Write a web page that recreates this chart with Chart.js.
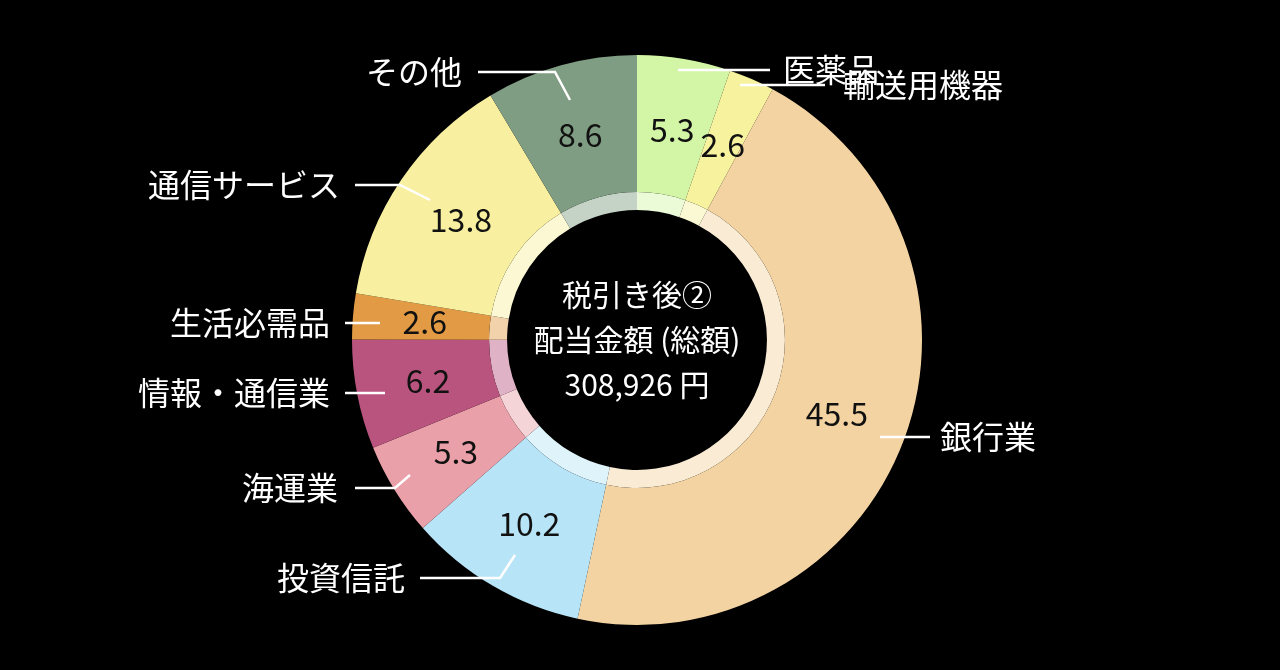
<!DOCTYPE html>
<html><head><meta charset="utf-8">
<script src="https://cdn.jsdelivr.net/npm/chart.js@4"></script>
<style>html,body{margin:0;background:#000;}#w{width:1280px;height:670px;}</style>
</head><body><div id="w"><canvas id="c"></canvas></div>
<script>
const categories = ['医薬品','輸送用機器','銀行業','投資信託','海運業','情報・通信業','生活必需品','通信サービス','その他'];
const values = [5.3, 2.6, 45.5, 10.2, 5.3, 6.2, 2.6, 13.8, 8.6];
const valueLabels = ['5.3','2.6','45.5','10.2','5.3','6.2','2.6','13.8','8.6'];
const centerLines = ['税引き後②','配当金額 (総額)','308,926 円'];
const colors = ['#d3f5a6','#f7f29e','#f3d3a1','#b7e4f7','#e9a0a9','#b9547f','#e29b44','#f8f0a0','#7f9d82'];
function lighten(h,t){const n=parseInt(h.slice(1),16);const r=n>>16,g=(n>>8)&255,b=n&255;
 const m=c=>Math.round(c+(255-c)*t);return `rgb(${m(r)},${m(g)},${m(b)})`;}
// label layout: [textX, textY, align, lineX1, lineX2, bendX, bendY]
const layout = [
 [783,70,'left',678,770,null,null],
 [843,85,'left',740,825,null,null],
 [940,437,'left',880,930,null,null],
 [405,578,'right',420,500,515,555],
 [338,488,'right',355,395,410,475],
 [330,393,'right',345,385,null,null],
 [330,323,'right',345,380,null,null],
 [340,185,'right',355,400,430,200],
 [462,72,'right',478,555,570,100]
];
const F = '"Noto Sans CJK JP","Noto Sans",sans-serif';
const labelPlugin = {
 id:'lbl',
 afterDraw(chart){
  const ctx=chart.ctx; const meta=chart.getDatasetMeta(0);
  ctx.save();
  ctx.textBaseline='middle';
  ctx.strokeStyle='#fff'; ctx.lineWidth=2.5; ctx.fillStyle='#fff';
  layout.forEach((l,i)=>{
   ctx.beginPath(); ctx.moveTo(l[3],l[1]); ctx.lineTo(l[4],l[1]);
   if(l[5]!==null) ctx.lineTo(l[5],l[6]);
   ctx.stroke();
   ctx.font='32px '+F; ctx.textAlign=l[2]; ctx.fillText(categories[i],l[0],l[1]);
  });
  meta.data.forEach((arc,i)=>{
   const a=(arc.startAngle+arc.endAngle)/2, r=213;
   ctx.font='32px '+F; ctx.textAlign='center'; ctx.fillStyle='#111';
   ctx.fillText(valueLabels[i],arc.x+Math.cos(a)*r,arc.y+Math.sin(a)*r);
  });
  const a0=meta.data[0];
  ctx.fillStyle='#fff'; ctx.font='30px '+F; ctx.textAlign='center';
  centerLines.forEach((t,k)=>ctx.fillText(t,a0.x,a0.y-45+k*45));
  ctx.restore();
 }
};
new Chart(document.getElementById('c'),{
 type:'doughnut',
 data:{labels:categories,datasets:[
  {data:values,backgroundColor:colors,borderWidth:0,weight:137},
  {data:values,backgroundColor:colors.map(c=>lighten(c,0.55)),borderWidth:0,weight:18}
 ]},
 options:{responsive:true,maintainAspectRatio:false,animation:false,cutout:'45.6%',
  layout:{padding:{top:55,bottom:45,left:0,right:6}},
  plugins:{legend:{display:false},tooltip:{enabled:false}}},
 plugins:[labelPlugin]
});
</script></body></html>
